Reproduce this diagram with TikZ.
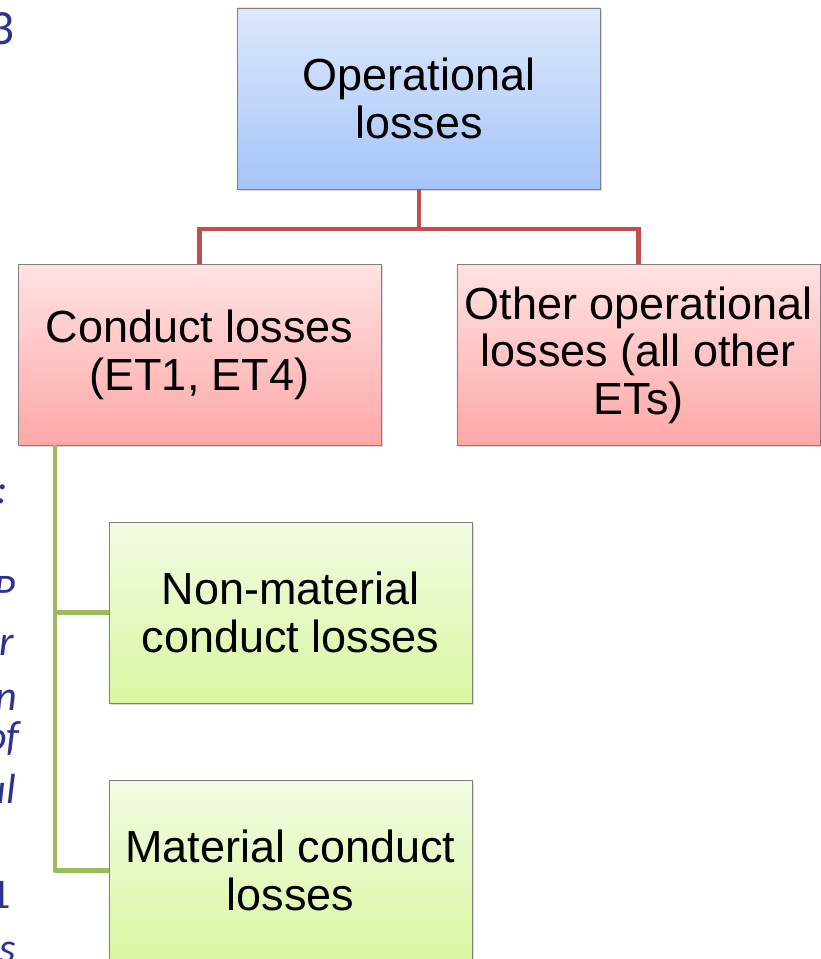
\documentclass[tikz,border=0pt]{standalone}
\usepackage{fontspec}
\setmainfont{Liberation Sans}
\newfontfamily\sidefont{Carlito}
\usepackage{tikz}
\usetikzlibrary{shadows}

\definecolor{bluetop}{HTML}{DCE8FC}
\definecolor{bluebot}{HTML}{A5C4F8}
\definecolor{pinktop}{HTML}{FFE2E2}
\definecolor{pinkbot}{HTML}{FFA7A7}
\definecolor{greentop}{HTML}{F2FBE2}
\definecolor{greenbot}{HTML}{D9F7A1}
\definecolor{linered}{HTML}{C0504D}
\definecolor{linegreen}{HTML}{9BBB59}
\definecolor{sideblue}{HTML}{2E3192}

\begin{document}
\begin{tikzpicture}[x=0.03cm,y=-0.03cm,
    box/.style={draw=gray,line width=0.5pt,minimum width=10.89cm,minimum height=5.43cm,
        align=center,font=\fontsize{38.4}{40.5}\selectfont,
        drop shadow={shadow xshift=1.5pt,shadow yshift=-1.5pt,opacity=0.3}},
    bluebox/.style={box,top color=bluetop,bottom color=bluebot},
    pinkbox/.style={box,top color=pinktop,bottom color=pinkbot},
    greenbox/.style={box,top color=greentop,bottom color=greenbot},
    redline/.style={draw=linered,line width=4.2pt},
    greenline/.style={draw=linegreen,line width=4.2pt,line join=round},
    cut/.style={text=sideblue,inner sep=0pt,anchor=base east,
        font=\sidefont\itshape\fontsize{36}{36}\selectfont}]
    % page frame
    \clip (0,0) rectangle (821,959);

    % cut-off text on the left
    \node[cut,font=\sidefont\fontsize{42}{42}\selectfont] (c1) at (15,45) {3};
    \node[cut] (c2) at (8,503) {:};
    \node[cut] (c3) at (16,603) {P};
    \node[cut] (c4) at (14,655) {r};
    \node[cut] (c5) at (17,710) {n};
    \node[cut] (c6) at (20,750) {of};
    \node[cut] (c7) at (16,803) {ul};
    \node[cut,font=\sidefont\fontsize{36}{36}\selectfont] (c8) at (11,908) {1};
    \node[cut] (c9) at (16,962) {s};

    % boxes
    \node[bluebox] (op) at (419,98.5) {Operational\\losses};
    \node[pinkbox] (conduct) at (199.5,355) {Conduct losses\\(ET1, ET4)};
    \node[pinkbox] (other) at (638.5,355) {Other operational\\losses (all other\\ETs)};
    \node[greenbox] (nonmat) at (290.5,612.5) {Non-material\\conduct losses};
    \node[greenbox] (mat) at (290.5,870.5) {Material conduct\\losses};

    % red tree
    \coordinate (fork) at (419,229);
    \draw[redline] (op.south) -- (fork) -| (conduct.north);
    \draw[redline] (fork) -| (other.north);

    % green tree
    \coordinate (trunk) at (55,445);
    \draw[greenline] (trunk) |- (nonmat.west);
    \draw[greenline] (trunk) |- (mat.west);
\end{tikzpicture}
\end{document}
